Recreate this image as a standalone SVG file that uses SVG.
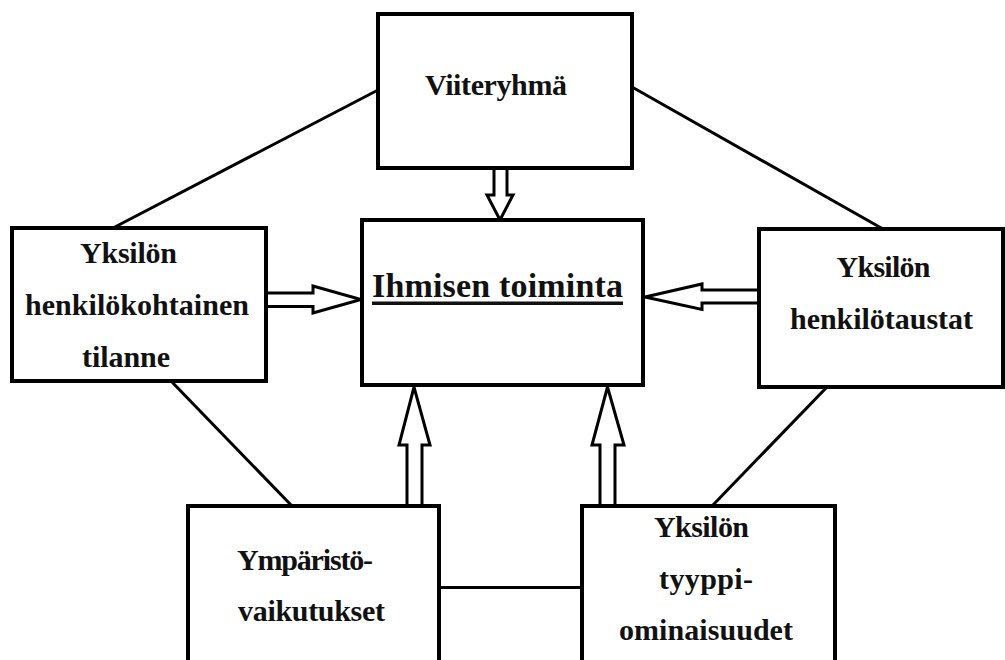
<svg xmlns="http://www.w3.org/2000/svg" width="1005" height="660" viewBox="0 0 1005 660">
<style>
.box{fill:#fff;stroke:#000;stroke-width:4}
.ln{stroke:#000;stroke-width:3;fill:none}
.arr{fill:#fff;stroke:#000;stroke-width:3;stroke-linejoin:miter}
text{font-family:"Liberation Serif","Times New Roman",serif;font-weight:bold;font-size:30px;fill:#111;text-anchor:middle}
.title{font-size:34px}
</style>
<rect width="1005" height="660" fill="#fff"/>
<g id="connectors">
<line class="ln" x1="378" y1="90" x2="113" y2="228"/>
<line class="ln" x1="632" y1="87" x2="883" y2="229"/>
<line class="ln" x1="171" y1="381" x2="292" y2="506"/>
<line class="ln" x1="827" y1="387" x2="712" y2="506"/>
<line class="ln" x1="439" y1="587.5" x2="582" y2="587.5"/>
<polygon class="arr" points="494,168 494,195 487,195 500,220 513,195 507,195 507,168"/>
<polygon class="arr" points="266,293 313,293 313,286 361,299.5 313,313 313,306.5 266,306.5"/>
<polygon class="arr" points="759,290 702,290 702,284 645,297 702,309.5 702,303 759,303"/>
<polygon class="arr" points="407,506 407,445 399,445 414,387 430,445 422,445 422,506"/>
<polygon class="arr" points="600,506 600,445 592,445 607.5,387 624,445 615,445 615,506"/>
</g>
<g id="viiteryhma">
<rect class="box" x="378" y="14" width="254" height="154"/>
<text x="496" y="95" textLength="142">Viiteryhmä</text>
</g>
<g id="ihmisen-toiminta">
<rect class="box" x="362" y="220" width="281" height="165"/>
<text class="title" x="497.5" y="297" textLength="251">Ihmisen toiminta</text>
<rect x="372" y="301.5" width="251" height="3.5" fill="#111"/>
</g>
<g id="henkilokohtainen">
<rect class="box" x="12" y="228" width="254" height="153"/>
<text x="128.5" y="263" textLength="97">Yksilön</text>
<text x="137" y="315" textLength="224">henkilökohtainen</text>
<text x="126" y="367" textLength="88">tilanne</text>
</g>
<g id="henkilotaustat">
<rect class="box" x="759" y="229" width="244" height="158"/>
<text x="883.5" y="277" textLength="94">Yksilön</text>
<text x="881.5" y="329" textLength="183">henkilötaustat</text>
</g>
<g id="ymparisto">
<rect class="box" x="188" y="506" width="251" height="170"/>
<text x="305" y="570" textLength="136">Ympäristö-</text>
<text x="311.5" y="621" textLength="147">vaikutukset</text>
</g>
<g id="tyyppiominaisuudet">
<rect class="box" x="582" y="506" width="253" height="170"/>
<text x="701.5" y="537" textLength="95">Yksilön</text>
<text x="706" y="589" textLength="94">tyyppi-</text>
<text x="706" y="640" textLength="174">ominaisuudet</text>
</g>
</svg>
